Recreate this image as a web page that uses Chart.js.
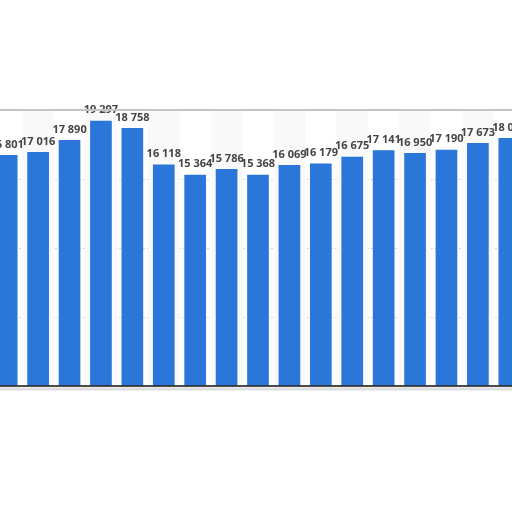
<!DOCTYPE html>
<html>
<head>
<meta charset="utf-8">
<script src="https://cdn.jsdelivr.net/npm/chart.js@4/dist/chart.umd.min.js"></script>
<style>
    html, body { margin: 0; padding: 0; background: #fff; overflow: hidden; }
    body { width: 512px; height: 512px; position: relative; }
    #wrap { position: absolute; left: -9px; top: 0; width: 534px; height: 512px; }
</style>
</head>
<body>
<div id="wrap"><canvas id="chart"></canvas></div>
<script>
// Chart data (categories are cut off in the reference, so left unnamed)
const categories = ['1', '2', '3', '4', '5', '6', '7', '8', '9', '10', '11', '12', '13', '14', '15', '16', '17'];
const values = [16801, 17016, 17890, 19297, 18758, 16118, 15364, 15786, 15368, 16069, 16179, 16675, 17141, 16950, 17190, 17673, 18040];
const yTicks = [0, 5000, 10000, 15000, 20000];

const barColor = '#2a76d9';

/**
 * Format numbers with a space as thousands separator
 */
function formatValue(num) {
    return num.toString().replace(/\B(?=(\d{3})+(?!\d))/g, ' ');
}

// Very light alternating bands behind every other category
const bandsPlugin = {
    id: 'bands',
    beforeDatasetsDraw(chart) {
        const { ctx, chartArea, scales } = chart;
        const step = scales.x.getPixelForValue(1) - scales.x.getPixelForValue(0);
        ctx.save();
        ctx.fillStyle = '#f9f9fa';
        categories.forEach((c, i) => {
            if (i % 2 === 1) {
                const cx = scales.x.getPixelForValue(i);
                ctx.fillRect(cx - step / 2, chartArea.top, step, chartArea.bottom - chartArea.top);
            }
        });
        ctx.restore();
    }
};

// Frame line on top, black baseline and shadow under it
const framePlugin = {
    id: 'frame',
    afterDraw(chart) {
        const { ctx, chartArea } = chart;
        ctx.save();
        ctx.strokeStyle = '#c4c4c4';
        ctx.lineWidth = 2;
        ctx.beginPath();
        ctx.moveTo(0, chartArea.top - 1);
        ctx.lineTo(chart.width, chartArea.top - 1);
        ctx.stroke();

        ctx.strokeStyle = '#111';
        ctx.lineWidth = 1.5;
        ctx.beginPath();
        ctx.moveTo(0, chartArea.bottom);
        ctx.lineTo(chart.width, chartArea.bottom);
        ctx.stroke();

        ctx.strokeStyle = '#dedede';
        ctx.lineWidth = 3;
        ctx.beginPath();
        ctx.moveTo(0, chartArea.bottom + 3);
        ctx.lineTo(chart.width, chartArea.bottom + 3);
        ctx.stroke();
        ctx.restore();
    }
};

// Value labels above each bar
const labelsPlugin = {
    id: 'valueLabels',
    afterDatasetsDraw(chart) {
        const { ctx } = chart;
        const meta = chart.getDatasetMeta(0);
        ctx.save();
        ctx.font = 'bold 11px "Open Sans"';
        ctx.fillStyle = '#444';
        ctx.textAlign = 'center';
        ctx.textBaseline = 'bottom';
        meta.data.forEach((bar, i) => {
            ctx.fillText(formatValue(values[i]), bar.x, bar.y - 5);
        });
        ctx.restore();
    }
};

const ctx = document.getElementById('chart').getContext('2d');
const chart = new Chart(ctx, {
    type: 'bar',
    data: {
        labels: categories,
        datasets: [{
            data: values,
            backgroundColor: barColor,
            borderWidth: 0,
            barPercentage: 0.69,
            categoryPercentage: 1
        }]
    },
    options: {
        responsive: true,
        maintainAspectRatio: false,
        animation: false,
        layout: {
            padding: { top: 111, bottom: 126, left: 0, right: 0 }
        },
        scales: {
            x: {
                ticks: { display: false },
                grid: { display: false, drawTicks: false },
                border: { display: false }
            },
            y: {
                min: yTicks[0],
                max: yTicks[yTicks.length - 1],
                afterBuildTicks: axis => {
                    axis.ticks = yTicks.map(v => ({ value: v }));
                },
                ticks: { display: false },
                grid: {
                    drawTicks: false,
                    color: ctx => (ctx.tick && ctx.tick.value > 0 && ctx.tick.value < 20000) ? '#d4d4d4' : 'rgba(0,0,0,0)',
                    lineWidth: 1
                },
                border: { display: false, dash: [2, 2] }
            }
        },
        plugins: {
            legend: { display: false },
            tooltip: { enabled: false }
        }
    },
    plugins: [bandsPlugin, framePlugin, labelsPlugin]
});
</script>
</body>
</html>
